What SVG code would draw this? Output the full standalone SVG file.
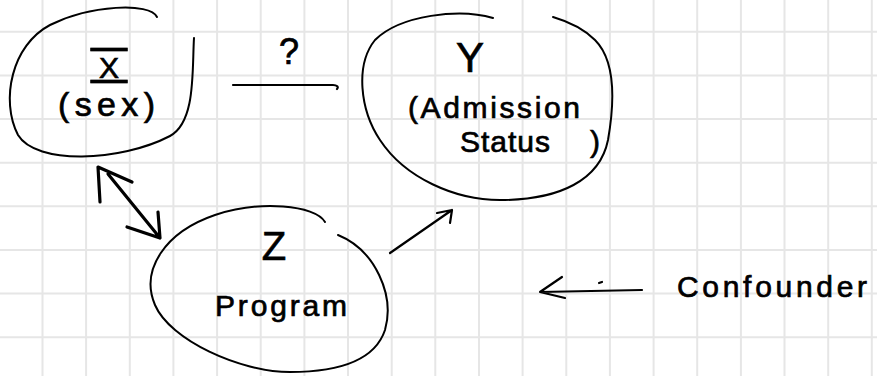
<svg xmlns="http://www.w3.org/2000/svg" width="877" height="376" viewBox="0 0 877 376">
<defs>
<style>
.grid{stroke:#e6e6e6;stroke-width:2;fill:none}
.loop{fill:none;stroke:#000;stroke-width:2;stroke-linecap:round;stroke-linejoin:round}
.edge{fill:none;stroke:#000;stroke-width:2.2;stroke-linecap:round;stroke-linejoin:round}
.bold{fill:none;stroke:#000;stroke-width:3.2;stroke-linecap:round;stroke-linejoin:round}
text{font-family:"Liberation Sans","DejaVu Sans",sans-serif;fill:#000;stroke:#000;stroke-width:0.7}
</style>
</defs>
<rect width="877" height="376" fill="#fff"/>
<g id="grid">
<path class="grid" d="M42.5,0V376M86.1,0V376M129.8,0V376M173.4,0V376M217.1,0V376M260.7,0V376M304.4,0V376M348,0V376M391.7,0V376M435.3,0V376M479,0V376M522.6,0V376M566.3,0V376M609.9,0V376M653.6,0V376M697.2,0V376M740.9,0V376M784.5,0V376M828.2,0V376M871.8,0V376M0,31.7H877M0,75.4H877M0,119H877M0,162.7H877M0,206.3H877M0,250H877M0,293.6H877M0,337.3H877"/>
</g>
<g id="connectors">
<path class="edge" d="M233,85 L333,85 C337,85 339,87 337,89"/>
<path class="edge" d="M390,253 L452,210 M437,213 L452,210 L450,223"/>
<path class="bold" d="M100,202 L98,167 L132,182 M108,174 L160,238 M127,227 L160,238 L158,212"/>
<path class="edge" d="M642,290 L540,292 L562,277 M540,292 L565,298 M599,283 L602,282"/>
</g>
<g id="node-x">
<path class="loop" d="M157,17 C150,2 90,5 50,25 C12,45 0,100 18,135 C36,165 120,162 170,136 C196,122 192,70 194,38"/>
<text x="109" y="78" font-size="30" text-anchor="middle" text-decoration="overline underline">&#160;X&#160;</text>
<text x="58" y="116" font-size="34" textLength="97" lengthAdjust="spacing">(sex)</text>
</g>
<g id="label-q">
<text x="289" y="64" font-size="36" text-anchor="middle">?</text>
</g>
<g id="node-y">
<path class="loop" d="M493,18 C460,8 400,15 375,40 C355,65 360,110 380,140 C405,178 455,200 500,200 C560,200 600,180 608,140 C615,100 615,60 595,40 C585,30 570,22 553,17"/>
<text x="470" y="72" font-size="42" text-anchor="middle">Y</text>
<text x="408" y="118" font-size="30" textLength="172" lengthAdjust="spacing">(Admission</text>
<text y="152" font-size="30"><tspan x="460" textLength="90" lengthAdjust="spacing">Status</tspan><tspan x="590">)</tspan></text>
</g>
<g id="node-z">
<path class="loop" d="M325,222 C315,205 260,200 215,215 C165,232 140,270 155,305 C170,340 240,372 290,372 C340,372 375,360 385,330 C395,295 375,250 338,235"/>
<text x="274" y="260" font-size="40" text-anchor="middle">Z</text>
<text x="215" y="316" font-size="30" textLength="132" lengthAdjust="spacing">Program</text>
</g>
<g id="label-confounder">
<text x="677" y="297" font-size="30" textLength="190" lengthAdjust="spacing">Confounder</text>
</g>
</svg>
